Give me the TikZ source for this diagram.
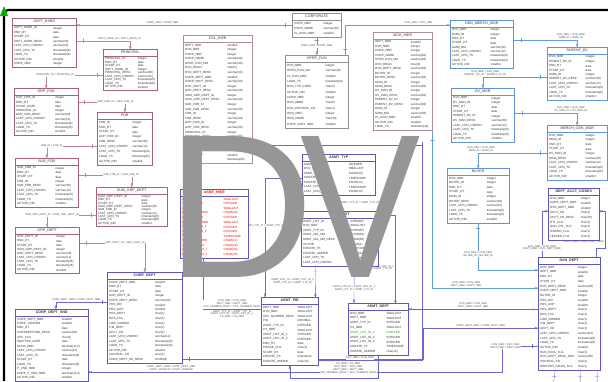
\documentclass[tikz,border=0pt]{standalone}
\usepackage{fontspec}
\setmainfont{Liberation Sans}
\usepackage{underscore}
\usetikzlibrary{positioning,arrows.meta,calc,backgrounds}
\definecolor{pinkb}{RGB}{170,96,128}
\definecolor{pinkl}{RGB}{196,128,156}
\definecolor{mauveb}{RGB}{178,140,160}
\definecolor{greyl}{RGB}{150,140,150}
\definecolor{blueb}{RGB}{96,148,214}
\definecolor{bluel}{RGB}{100,156,226}
\definecolor{purpb}{RGB}{92,88,186}
\definecolor{purpl}{RGB}{108,104,208}
\definecolor{keygrn}{RGB}{40,150,40}
\definecolor{lettergrey}{RGB}{150,150,150}
\tikzset{
  tbl/.style={draw=#1, fill=white, inner sep=0pt, line width=0.4pt},
  ttl/.style={font=\fontsize{3.6}{4}\selectfont, inner sep=0pt},
  cell/.style={font=\fontsize{3}{3.4}\selectfont, inner sep=0pt},
  rel/.style={color=#1, line width=0.35pt, -{Circle[open,length=2pt,width=2pt]Stealth[length=1.8pt,width=2.4pt]}},
  tick/.style={draw, inner sep=0pt, minimum width=0pt, minimum height=4pt, sloped, pos=#1},
  tick/.default={0.05},
  lbl/.style={font=\fontsize{2.6}{2.9}\selectfont, fill=white, align=center, inner sep=0.4pt, text=black!70},
  bigletter/.style={font=\fontsize{205}{205}\selectfont, text=lettergrey, inner sep=0pt, anchor=base west}
}
% table: name, border colour, text colour, top left, width, height, title, rows
\newcommand{\ertable}[8]{%
  \node[tbl=#2, minimum width=#5pt, minimum height=#6pt, anchor=north west] (#1) at (#4) {};
  \node[ttl, text=#3] (#1-t) at ([yshift=-3.6pt]#1.north) {#7};
  \draw[#2, line width=0.4pt] ([yshift=-7pt]#1.north west) -- ([yshift=-7pt]#1.north east);
  \foreach \cname/\ctype [count=\ri] in {#8} {\xdef\nrows{\ri}}
  \pgfmathsetmacro{\pitch}{(#6-9)/\nrows}
  \foreach \cname/\ctype [count=\ri] in {#8} {
    \node[cell, text=#3, anchor=west] at ([xshift=2pt, yshift={-(8+(\ri-0.5)*\pitch)*1pt}]#1.north west) {\cname};
    \node[cell, text=#3, anchor=west] at ([xshift={0.64*#5pt}, yshift={-(8+(\ri-0.5)*\pitch)*1pt}]#1.north west) {\ctype};
  }
}

\begin{document}
\begin{tikzpicture}[x=1pt, y=-1pt]
\useasboundingbox (0,0) rectangle (608,381);
\clip (0,0) rectangle (608,381);

% product hierarchy
\ertable{sh}{pinkb}{black!80}{12,18}{64}{49}{SOFT_HARD}{SOFT_HARD_ID/integer, END_DT/date, START_DT/date, SOFT_HARD_DESC/varchar(30), LAST_UPD_USERID/varchar(12), LAST_UPD_TS/timestamp(6), LOAD_TS/timestamp(6), ACTIVE_IND/smallint, CORP_NBR/integer}
\ertable{pr}{pinkb}{black!80}{103,49}{54}{41}{PRINCIPAL}{PRINCIPAL_ID/integer, END_DT/date, START_DT/date, SOFT_HARD_ID/integer, PRINCIPAL_DESC/varchar(30), LAST_UPD_USERID/varchar(12), LAST_UPD_TS/timestamp(6), LOAD_TS/timestamp(6), ACTIVE_IND/smallint}
\ertable{gf}{pinkb}{black!80}{14,88}{64}{47}{GRP_FOB}{GRP_FOB_ID/integer, END_DT/date, START_DATE/date, PRINCIPAL_ID/integer, GRP_FOB_DESC/varchar(30), LAST_UPD_USERID/varchar(12), LAST_UPD_TS/timestamp(6), LOAD_TS/timestamp(6), ACTIVE_IND/smallint}
\ertable{fob}{pinkb}{black!80}{97,112}{55}{53}{FOB}{FOB_ID/integer, END_DT/date, START_DT/date, GRP_FOB_ID/integer, FOB_DESC/varchar(30), LAST_UPD_USERID/varchar(12), LAST_UPD_TS/timestamp(6), LOAD_TS/timestamp(6), ACTIVE_IND/smallint}
\ertable{sf}{pinkb}{black!80}{15,158}{63}{49}{SUB_FOB}{SUB_FOB_ID/integer, END_DT/date, START_DT/date, FOB_ID/integer, SUB_FOB_DESC/varchar(30), LAST_UPD_USERID/varchar(12), LAST_UPD_TS/timestamp(6), LOAD_TS/timestamp(6), ACTIVE_IND/smallint}
\ertable{sgd}{pinkb}{black!80}{96,187}{71}{39}{SUM_GRP_DEPT}{SUM_GRP_DEPT_ID/integer, END_DT/date, START_DT/date, SUM_GRP_DEPT_DESC/varchar(30), SUB_FOB_ID/integer, LAST_UPD_USERID/varchar(12), LAST_UPD_TS/timestamp(6), LOAD_TS/timestamp(6), ACTIVE_IND/smallint}
\ertable{gd}{pinkb}{black!80}{15,227}{64}{46}{GRP_DEPT}{GRP_DEPT_ID/integer, END_DT/date, START_DT/date, SUM_GRP_DEPT_ID/integer, GRP_DEPT_DESC/varchar(30), LAST_UPD_USERID/varchar(12), LAST_UPD_TS/timestamp(6), LOAD_TS/timestamp(6), ACTIVE_IND/smallint}
\ertable{csl}{mauveb}{black!80}{183,35}{69}{128}{CSL_HIER}{DEPT_NBR/smallint, DVN_NBR/integer, CORP_NBR/integer, CORP_NAME/varchar(40), OPER_DVN_NM/varchar(40), DVN_REGN/char(3), DVN_DEPT_DESC/varchar(30), CORP_DEPT_NBR/smallint, CORP_DEPT_DESC/varchar(30), GRP_DEPT_ID/integer, GRP_DEPT_DESC/varchar(30), SUM_GRP_DEPT_ID/integer, SUM_GRP_DEPT_DESC/varchar(30), SUB_FOB_ID/integer, SUB_FOB_DESC/varchar(30), FOB_ID/integer, FOB_DESC/varchar(30), GRP_FOB_ID/integer, GRP_FOB_DESC/varchar(30), PRINCIPAL_ID/integer, PRINCIPAL_DESC/varchar(30), SOFT_HARD_ID/integer, SOFT_HARD_DESC/varchar(30), ZL_DIVN_NBR/smallint, ACTIVE_IND/smallint, LOAD_TS/timestamp(6)}

% corporate and merchandising
\ertable{corp}{greyl}{black!80}{292,13}{49}{24}{CORPORATE}{CORP_NBR/integer, CORP_NAME/varchar(40), ZL_DIVN_NBR/smallint}
\ertable{od}{greyl}{black!80}{285,55}{63}{73}{OPER_DVN}{DVN_NBR/integer, OPER_DVN_NM/varchar(40), ZL_DVN_NBR/smallint, LOAD_TS/timestamp(6), DVN_TYP_CODE/char(2), ACTIVE_IND/smallint, CORP_NBR/integer, DVN_ABBR/char(5), DVN_CENTRAL_CD/char(1), HDQ_NBR/integer, HDQ_NAME/char(30), CORP_SOFT_NBR/smallint}
\ertable{mh}{mauveb}{black!80}{373,32}{59}{98}{MCH_HIER}{DEPT_NBR/smallint, DVN_NBR/integer, CORP_NBR/integer, CORP_NAME/varchar(40), OPER_DVN_NM/varchar(40), DVN_REGN/char(3), DVN_DEPT_DESC/varchar(30), BUYER_ID/integer, BUYER_DESC/varchar(30), MGM_ID/integer, MGM_DESC/varchar(30), DV_MAN_ID/integer, DV_MAN_DESC/varchar(30), PARENT_DV_ID/integer, PARENT_DV_DESC/varchar(30), GMM_ID/integer, GMM_NM/varchar(30), ZL_DIVN_NBR/smallint, ACTIVE_IND/smallint, LOAD_TS/timestamp(6)}
\ertable{gmm}{blueb}{black!80}{450,20}{63}{48}{GEN_MERCH_MGR}{DVN_NBR/integer, GMM_ID/integer, END_DT/date, START_DT/date, GMM_NM/varchar(30), LAST_UPD_USERID/varchar(12), LAST_UPD_TS/timestamp(6), LOAD_TS/timestamp(6), ACTIVE_IND/smallint}
\ertable{pd}{blueb}{black!80}{547,47}{60}{53}{PARENT_DV}{DVN_NBR/integer, PARENT_DV_ID/integer, END_DT/date, START_DT/date, GMM_ID/integer, PARENT_DV_DESC/varchar(30), LAST_UPD_USERID/varchar(12), LAST_UPD_TS/timestamp(6), LOAD_TS/timestamp(6), ACTIVE_IND/smallint}
\ertable{dvm}{blueb}{black!80}{451,88}{63}{54}{DV_MGR}{DVN_NBR/integer, DV_MAN_ID/integer, END_DT/date, START_DT/date, PARENT_DV_ID/integer, DV_MAN_DESC/varchar(30), LAST_UPD_USERID/varchar(12), LAST_UPD_TS/timestamp(6), LOAD_TS/timestamp(6), ACTIVE_IND/smallint}
\ertable{mgm}{blueb}{black!80}{547,125}{60}{55}{MERCH_GEN_MGR}{DVN_NBR/integer, MGM_ID/integer, END_DT/date, START_DT/date, DV_MAN_ID/integer, MGM_DESC/varchar(30), LAST_UPD_USERID/varchar(12), LAST_UPD_TS/timestamp(6), LOAD_TS/timestamp(6), ACTIVE_IND/smallint}
\ertable{by}{blueb}{black!80}{447,168}{62}{55}{BUYER}{DVN_NBR/integer, BUYER_ID/integer, END_DT/date, START_DT/date, MGM_ID/integer, BUYER_DESC/varchar(30), LAST_UPD_USERID/varchar(12), LAST_UPD_TS/timestamp(6), LOAD_TS/timestamp(6), ACTIVE_IND/smallint}
\ertable{dac}{purpb}{black!80}{548,188}{51}{52}{\textbf{DEPT_ACCT_CODES}}{DVN_NBR/integer, CORP_DEPT_NBR/smallint, DVN_DEPT_NBR/smallint, ACCT_CD/char(1), ACCT_CD_DESC/char(20), RTL_FLG/char(1), NON_RTL_FLG/char(1), OWNED_FLG/char(1), LEASED_FLG/char(1)}
\ertable{dd}{purpb}{black!80}{538,257}{62}{113}{\textbf{DVN_DEPT}}{DVN_NBR/integer, DEPT_NBR/smallint, END_DT/date, START_DT/date, DVN_DEPT_DESC/varchar(30), CORP_DEPT_NBR/smallint, BUYER_ID/integer, POS_DIV/smallint, POS_GRP/smallint, POS_DEPT/char(1), RDS_FLG/char(1), LOW_OWNED/char(1), ITM_DEPT/char(1), ACCT_CD/char(1), LAST_UPD_USERID/varchar(12), LAST_UPD_TS/timestamp(6), LOAD_TS/timestamp(6), ACTIVE_IND/smallint, RUN_EXCL_FLG/char(1), DVN_DEPT_DESC_RDS/varchar(30), CENTRAL_CD/char(1), WRITTEN_SALES_FLG/char(1)}

% assortment tables
\ertable{at}{purpb}{black!80}{302,154}{73}{41}{\textbf{ASMT_TYP}}{ASMT_TYP_ID/INTEGER, DVN_NBR/SMALLINT, ASMT_TYP_DESC/CHAR(30), CREATE_TS/TIMESTAMP, CREATE_USERID/CHAR(12), LAST_UPD_TS/TIMESTAMP, LAST_UPD_USERID/CHAR(12)}
\ertable{al}{purpb}{black!80}{301,211}{77}{55}{\textbf{ASMT_LIST}}{ASMT_LIST_ID/INTEGER, DVN_NBR/SMALLINT, ASMT_TYP_ID/INTEGER, ASMT_VAL_NM/CHAR(30), ASMT_VAL_NM_DESC/CHAR(50), ACTIVE/CHAR(1), CREATE_TS/TIMESTAMP, CREATE_USERID/CHAR(12), LAST_UPD_TS/TIMESTAMP, LAST_UPD_USERID/CHAR(12)}
\ertable{ah}{purpb}{red}{180,189}{68}{69}{\textbf{ASMT_HIER}}{DVN_NBR/SMALLINT, ASMT_TYP_ID/INTEGER, DEPT_NBR/SMALLINT, DVN_DEPT_DESC/CHAR(30), ASMT_LIST_ID/INTEGER, CORP_DEPT_NBR/SMALLINT, ASMT_LIST_ID_1/INTEGER, ASMT_LIST_ID_2/INTEGER, CREATE_TS/TIMESTAMP, CREATE_USERID/CHAR(12), ASMT_VAL_NM/CHAR(30), ASMT_VAL_NM_1/CHAR(30), ASMT_VAL_NM_2/CHAR(30)}
\ertable{cd}{purpb}{black!80}{107,272}{75}{91}{\textbf{CORP_DEPT}}{CORP_DEPT_NBR/smallint, END_DT/date, START_DT/date, GRP_DEPT_ID/integer, CORP_DEPT_DESC/varchar(30), POS_DIV/smallint, POS_GRP/smallint, POS_DEPT/char(1), RDS_FLG/char(1), LOW_OWNED/char(1), ITM_DEPT/char(1), ACCT_CD/char(1), LAST_UPD_USERID/varchar(12), LAST_UPD_TS/timestamp(6), LOAD_TS/timestamp(6), ACTIVE_IND/smallint, CENTRAL_CD/char(1), CORP_DEPT_SH_DESC/CHAR(8)}
\ertable{cdv}{purpb}{black!80}{15,309}{73}{72}{\textbf{CORP_DEPT_VND}}{CORP_DEPT_NBR/smallint, CORP_VENDOR/smallint, END_DT/date, CORPDEPTVND_DESC/varchar(30), UPC_FLG/char(1), INACTIVE_DATE/date, DUNS_NBR/{decimal(11,0)}, LAST_UPD_USERID/varchar(12), LAST_UPD_TS/timestamp(6), START_DT/date, LOAD_TS/timestamp(6), P_VND_NBR/integer, CORP_P_VND_NBR/{decimal(11,0)}, ACTIVE_IND/smallint}
\ertable{ap}{purpb}{black!80}{261,297}{57}{68}{\textbf{ASMT_PID}}{DEPT_NBR/SMALLINT, DVN_NBR/SMALLINT, UPC_NUMBER_DESC/SMALLINT, PID/DECIMAL, ASMT_TYP_ID/INTEGER, CS_NBR/SMALLINT, ASMT_LIST_ID_1/INTEGER, ASMT_LIST_ID_2/INTEGER, END_DT/date, PURGE_FLG/char(1), START_DT/date, CREATE_TS/timestamp, CREATE_USERID/char(12)}
\ertable{ad}{purpb}{black!80}{348,303}{60}{52}{\textbf{ASMT_DEPT}}{DVN_NBR/SMALLINT, DEPT_NBR/SMALLINT, ASMT_TYP_ID/INTEGER, CS_NBR/SMALLINT, {\textcolor{keygrn}{ASMT_LIST_ID_1}}/{\textcolor{keygrn}{INTEGER}}, ASMT_LIST_ID_2/INTEGER, ASMT_LIST_ID_3/INTEGER, CREATE_TS/TIMESTAMP, CREATE_USERID/char(12)}

% free ends below the frame
\coordinate (offa) at (552,395);
\coordinate (offb) at (580,395);
\coordinate (offc) at (597,395);

\begin{pgfonlayer}{background}
\fill[white] (0,0) rectangle (608,381);

% hierarchy links
\draw[rel=greyl] (corp.west) -- node[tick=0.03] {} node[lbl, above=0.5pt, pos=0.6] {CORP_NBR = CORP_NBR} (corp.west -| sh.east);
\draw[rel=pinkl] ([yshift=2pt]sh.east) -| node[tick=0.06] {} node[lbl, above=0.5pt, pos=0.4] {SOFT_HARD_ID = SOFT_HARD_ID} (pr.north);
\draw[rel=pinkl] ([yshift=-5.5pt]pr.west) -| node[tick=0.05] {} node[lbl, pos=0.42] {PRINCIPAL_ID = PRINCIPAL_ID} (gf.north);
\draw[rel=pinkl] ([yshift=9.5pt]gf.east) -| node[tick=0.06] {} node[lbl, pos=0.4] {GRP_FOB_ID = GRP_FOB_ID} (fob.north);
\draw[rel=pinkl] ([yshift=-7.5pt]fob.west) -| node[tick=0.05] {} node[lbl, pos=0.45] {FOB_ID = FOB_ID} (sf.north);
\draw[rel=pinkl] ([yshift=7.5pt]sf.east) -| node[tick=0.06] {} node[lbl, pos=0.4] {SUB_FOB_ID = SUB_FOB_ID} (sgd.north);
\draw[rel=pinkl] ([yshift=-8.5pt]sgd.west) -| node[tick=0.05] {} node[lbl, pos=0.45] {SUM_GRP_DEPT_ID = SUM_GRP_DEPT_ID} (gd.north);
\draw[rel=pinkl] ([yshift=7pt]gd.east) -| node[tick=0.05] {} node[lbl, pos=0.35] {GRP_DEPT_ID = GRP_DEPT_ID} (cd.north);
\draw[rel=greyl] (corp.south) -- node[tick=0.15] {} node[lbl] {CORP_NBR = CORP_NBR} (od.north);

% merchandising links
\draw[rel=bluel] ([xshift=-3pt]od.north east) |- node[tick=0.1] {} node[lbl, above=0.5pt, pos=0.85] {DVN_NBR = DVN_NBR} ([yshift=19pt]gmm.west);
\draw[rel=bluel] ([yshift=4pt]gmm.east) -| node[tick=0.06] {} node[lbl, above=0.5pt, pos=0.45] {DVN_NBR = DVN_NBR\\GMM_ID = GMM_ID} (pd.north);
\draw[rel=bluel] ([yshift=-3.5pt]pd.west) -| node[tick=0.05] {} node[lbl, above=0.5pt, pos=0.48] {DVN_NBR = DVN_NBR\\PARENT_DV_ID = PARENT_DV_ID} (dvm.north);
\draw[rel=bluel] ([yshift=2pt]dvm.east) -| node[tick=0.06] {} node[lbl, above=0.5pt, pos=0.45] {DVN_NBR = DVN_NBR\\DV_MAN_ID = DV_MAN_ID} (mgm.north);
\draw[rel=bluel] (mgm.west) -| node[tick=0.05] {} node[lbl, above=0.5pt, pos=0.48] {DVN_NBR = DVN_NBR\\MGM_ID = MGM_ID} (by.north);
\draw[rel=bluel] (by.south) |- node[tick=0.05] {} node[lbl, pos=0.33] {DVN_NBR = DVN_NBR\\BUYER_ID = BUYER_ID} ([yshift=43.5pt]dd.west);
\draw[rel=bluel] (mh.south east) |- node[tick=0.03] {} node[lbl, above=0.5pt, pos=0.66] {DVN_NBR = DVN_NBR\\DEPT_NBR = DEPT_NBR} ([yshift=25.5pt]dd.west);

% department links
\draw[rel=purpl] ([xshift=4pt]dd.north west) |- node[tick=0.08] {} node[lbl, pos=0.1] {DVN_NBR = DVN_NBR\\DEPT_NBR = DVN_DEPT_NBR} ([yshift=3pt]dac.west);
\draw[rel=purpl] ([xshift=-4pt]dd.north east) |- ++(9,-9) |- node[lbl, pos=0.1, left=1pt] {DVN_NBR = DVN_NBR\\DEPT_NBR = CORP_DEPT_NBR} ([yshift=3pt]dac.east);
\draw[rel=purpl] ([yshift=4.5pt]dd.west) -- node[tick=0.04] {} node[lbl, above=0.5pt] {DVN_NBR = DVN_NBR\\DEPT_NBR = DEPT_NBR} ([yshift=20pt]ad.east);
\draw[rel=purpl] ([yshift=-41.5pt]cd.east) -- node[tick=0.03] {} ++(241,0) |- node[lbl, above=0.5pt, pos=0.75] {CORP_DEPT_NBR = CORP_DEPT_NBR} ([yshift=-14.5pt]dd.west);
\draw[rel=purpl] ([yshift=-32.5pt]dd.west) -- node[tick=0.15] {} node[lbl, pos=0.9] {DVN_NBR = DVN_NBR\\DEPT_NBR = DEPT_NBR} ++(-36,0) |- node[lbl, above=0.5pt, pos=0.9] {CORP_DEPT_NBR = CORP_DEPT_NBR\\CORP_VENDOR = CORP_VENDOR} ([yshift=-27pt]cdv.east);
\draw[rel=purpl] ([xshift=-14pt]dd.south) -- node[tick=0.25] {} (offa);
\draw[rel=purpl] ([xshift=11pt]dd.south) -- node[tick=0.25] {} (offb);
\draw[rel=purpl] ([xshift=28pt]dd.south) -- node[tick=0.25] {} (offc);
\draw[rel=purpl] ([yshift=15.5pt]cd.west) -| node[tick=0.05] {} node[lbl, above=0.5pt, pos=0.3] {CORP_DEPT_NBR = CORP_DEPT_NBR} ([xshift=4pt]cdv.north);
\draw[rel=purpl] ([yshift=-3.5pt]csl.east |- 0,142) -| ([xshift=170pt]csl.east |- 0,142) |- node[lbl, above=0.5pt, pos=0.8] {DVN_NBR = DVN_NBR} ([yshift=-29pt]ap.east);

% assortment links
\draw[rel=purpl] (at.south) -- node[tick=0.2] {} node[lbl, right=1pt] {ASMT_TYP_ID = ASMT_TYP_ID} (al.north);
\draw[rel=purpl] ([yshift=-3.5pt]at.west) -| node[tick=0.1] {} node[lbl, pos=0.7] {ASMT_TYP_ID = ASMT_TYP_ID} ([xshift=4pt]ap.north west);
\draw[rel=purpl] ([xshift=-24.5pt]al.south) -- node[tick=0.15] {} node[lbl, left=1pt] {ASMT_LIST_ID = ASMT_LIST_ID_2\\ASMT_TYP_ID = ASMT_TYP_ID} ([xshift=-3pt]ap.north east);
\draw[rel=purpl] ([xshift=14.5pt]al.south) -- node[tick=0.15] {} node[lbl, pos=0.6] {ASMT_LIST_ID = ASMT_LIST_ID_3\\ASMT_TYP_ID = ASMT_TYP_ID} ([xshift=6pt]ad.north west);
\draw[rel=purpl] ([yshift=23.5pt]al.east) -| node[tick=0.06] {} node[lbl, pos=0.8, left=1pt] {ASMT_LIST_ID = ASMT_LIST_ID_1\\ASMT_TYP_ID = ASMT_TYP_ID} ([xshift=-13pt]ad.north east);
\draw[rel=purpl] ([xshift=-11pt]ah.south) |- node[tick=0.08] {} node[lbl, above=0.5pt, pos=0.75] {DVN_NBR = DVN_NBR\\DEPT_NBR = DEPT_NBR\\UPC_NUMBER_DESC = UPC_NUMBER_DESC} node[lbl, below=0.5pt, pos=0.75] {ASMT_TYP_ID = ASMT_TYP_ID\\ASMT_LIST_ID = ASMT_LIST_ID_1\\CS_NBR = CS_NBR} ([yshift=22pt]ap.west);
\draw[rel=purpl] (ad.south) -- node[tick=0.2] {} node[lbl, left=1pt, pos=0.55] {CS_NBR = CS_NBR\\DVN_NBR = DVN_NBR\\DEPT_NBR = DEPT_NBR\\UPC_NUMBER_DESC = UPC_NUMBER_DESC} ++(0,23) -| (ap.south);
\end{pgfonlayer}

% frame and corner mark
\draw[line width=2.2pt, rounded corners=4pt] (4,381) |- (608,10);
\fill[green!70!black] (0,16) -- (4,6) -- (8,16) -- cycle;

% overlay letters
\node[bigletter] (dl) at (166,277) {D};
\node[bigletter, xscale=0.88] (vl) at (300,277) {V};
\end{tikzpicture}
\end{document}
